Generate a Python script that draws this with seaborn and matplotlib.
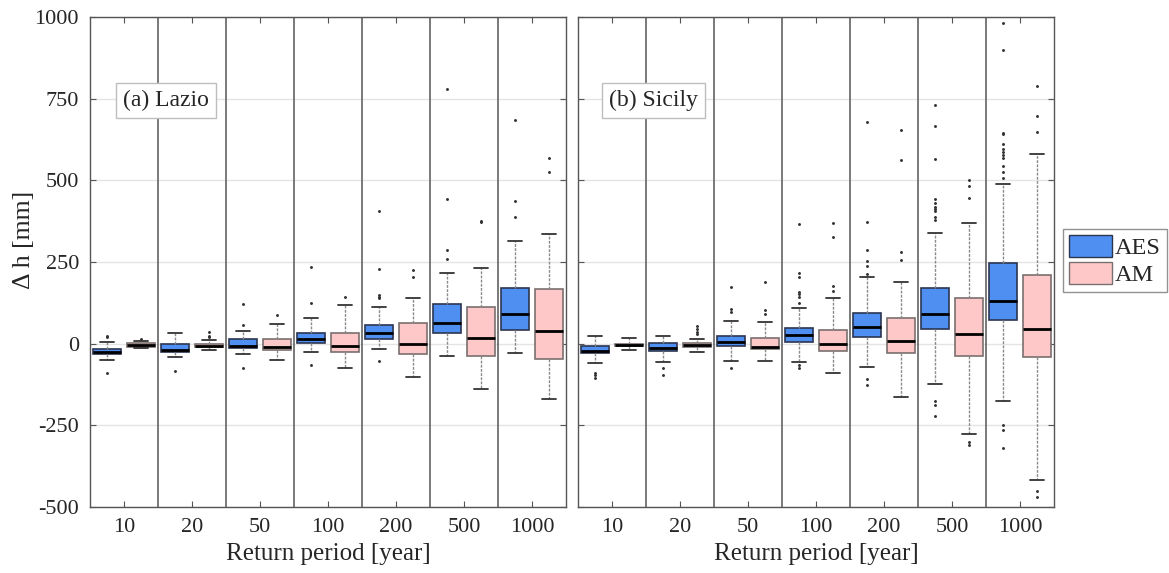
import matplotlib
matplotlib.use("Agg")
import matplotlib.pyplot as plt
from matplotlib.patches import Patch
import seaborn as sns

# ---------------- data ----------------
periods = ["10", "20", "50", "100", "200", "500", "1000"]
series = ["AES", "AM"]
regions = ["(a) Lazio", "(b) Sicily"]

# Lazio - AES
lazio_aes_q1 = [-31, -26, -12, 1, 15, 32, 42]
lazio_aes_med = [-25, -19, -6, 14, 34, 63, 90]
lazio_aes_q3 = [-17, -1, 13, 33, 57, 121, 171]
lazio_aes_lo = [-50, -42, -31, -24, -17, -39, -28]
lazio_aes_hi = [4, 32, 39, 79, 113, 217, 315]
lazio_aes_fl = [[23, 20, -89], [-83], [56, 121, -73], [126, 234, -64],
                [406, 230, 149, 144, 139, -54], [779, 443, 287, 259], [685, 438, 389]]
# Lazio - AM
lazio_am_q1 = [-9, -11, -19, -24, -32, -38, -46]
lazio_am_med = [-4, -7, -10, -6, 0, 17, 38]
lazio_am_q3 = [1, -1, 13, 34, 62, 113, 166]
lazio_am_lo = [-12, -20, -51, -76, -103, -140, -168]
lazio_am_hi = [9, 10, 61, 119, 139, 232, 335]
lazio_am_fl = [[13], [36, 24, 19], [88], [144], [224, 204], [375, 371], [567, 526]]

# Sicily - AES
sicily_aes_q1 = [-29, -22, -8, 6, 20, 45, 73]
sicily_aes_med = [-23, -14, 4, 28, 50, 91, 130]
sicily_aes_q3 = [-7, 1, 24, 49, 93, 170, 246]
sicily_aes_lo = [-58, -55, -52, -56, -70, -124, -177]
sicily_aes_hi = [24, 25, 70, 108, 203, 338, 488]
sicily_aes_fl = [[-89, -97, -105], [-73, -96], [172, 106, 96, -75],
                 [366, 217, 204, 159, 152, 143, 124, -64, -74],
                 [678, 372, 288, 253, 239, 213, -109, -128],
                 [732, 665, 565, 443, 431, 419, 411, 405, 389, 380, -176, -189, -222],
                 [983, 900, 646, 643, 610, 596, 586, 578, 568, 544, 526, 508, -250, -263, -319]]
# Sicily - AM
sicily_am_q1 = [-7, -9, -17, -22, -29, -37, -42]
sicily_am_med = [-3, -4, -9, -2, 8, 31, 46]
sicily_am_q3 = [0, 1, 18, 42, 80, 141, 211]
sicily_am_lo = [-19, -24, -54, -91, -163, -276, -418]
sicily_am_hi = [17, 13, 67, 139, 190, 370, 580]
sicily_am_fl = [[], [55, 45, 37, 30], [190, 102, 90], [370, 327, 177, 162],
                [655, 562, 282, 255], [500, 484, 445, -302, -310], [789, 697, 648, -452, -468]]

y_ticks = [-500, -250, 0, 250, 500, 750, 1000]

# ---------------- style ----------------
sns.set_theme(style="white")
plt.rcParams["font.family"] = ["Liberation Serif", "DejaVu Serif"]
plt.rcParams["mathtext.fontset"] = "stix"

colors = {"AES": "#4f8ff2", "AM": "#ffc8c8"}
edges = {"AES": "#2b3550", "AM": "#7a7070"}


def make_stats(q1, med, q3, lo, hi, fl):
    return [dict(q1=a, med=b, q3=c, whislo=d, whishi=e, fliers=f)
            for a, b, c, d, e, f in zip(q1, med, q3, lo, hi, fl)]


data = {
    "(a) Lazio": {
        "AES": make_stats(lazio_aes_q1, lazio_aes_med, lazio_aes_q3, lazio_aes_lo, lazio_aes_hi, lazio_aes_fl),
        "AM": make_stats(lazio_am_q1, lazio_am_med, lazio_am_q3, lazio_am_lo, lazio_am_hi, lazio_am_fl),
    },
    "(b) Sicily": {
        "AES": make_stats(sicily_aes_q1, sicily_aes_med, sicily_aes_q3, sicily_aes_lo, sicily_aes_hi, sicily_aes_fl),
        "AM": make_stats(sicily_am_q1, sicily_am_med, sicily_am_q3, sicily_am_lo, sicily_am_hi, sicily_am_fl),
    },
}

W, H = 1169, 573
fig = plt.figure(figsize=(W / 100, H / 100), dpi=100)
ax_pos = [(90, 17, 476, 490), (578, 17, 476, 490)]
offsets = {"AES": -0.25, "AM": 0.25}
text_x = [0.069, 0.065]

n = len(periods)
for k, region in enumerate(regions):
    x0, y0, w, h = ax_pos[k]
    ax = fig.add_axes([x0 / W, 1 - (y0 + h) / H, w / W, h / H])
    ax.set_xlim(-0.5, n - 0.5)
    ax.set_ylim(-500, 1000)
    for yv in y_ticks:
        ax.axhline(yv, color="#e4e4e4", lw=1.0, zorder=0)
    for i in range(1, n):
        ax.axvline(i - 0.5, color="#555555", lw=1.1, zorder=1)
    for s in series:
        pos = [i + offsets[s] for i in range(n)]
        ax.bxp(data[region][s], positions=pos, widths=0.41, patch_artist=True,
               showfliers=True, manage_ticks=False, capwidths=0.2,
               boxprops=dict(facecolor=colors[s], edgecolor=edges[s], lw=1.2),
               medianprops=dict(color="black", lw=2.0),
               whiskerprops=dict(color="#8a8a8a", lw=1.0, ls=(0, (2, 1))),
               capprops=dict(color="#333333", lw=1.3),
               flierprops=dict(marker=".", markersize=2.2, markerfacecolor="#333333",
                               markeredgecolor="#333333", ls="none"))
    ax.set_xticks(range(n))
    ax.set_xticklabels(periods, fontsize=16)
    ax.set_yticks(y_ticks)
    ax.tick_params(axis="both", direction="in", length=4, width=0.8, color="#555555",
                   top=True, right=True, bottom=True, left=True, pad=8)
    if k == 0:
        ax.set_yticklabels([str(v) for v in y_ticks], fontsize=16)
        ax.set_ylabel("Δ h [mm]", fontsize=18.5)
        ax.yaxis.set_label_coords(-0.116, 0.545)
    else:
        ax.set_yticklabels([])
    ax.set_xlabel("Return period [year]", fontsize=18, labelpad=4)
    for sp in ax.spines.values():
        sp.set_color("#555555")
        sp.set_linewidth(1.0)
    ax.text(text_x[k], 0.829, region, transform=ax.transAxes, fontsize=17,
            ha="left", va="center", zorder=5,
            bbox=dict(boxstyle="square,pad=0.3", facecolor="white", edgecolor="#bdbdbd", lw=1.0))

handles = [Patch(facecolor=colors[s], edgecolor=edges[s], lw=1.0, label=s) for s in series]
leg = fig.legend(handles=handles, loc="upper left", bbox_to_anchor=(1063 / W, 1 - 229 / H),
                 fontsize=17.5, frameon=True, fancybox=False, handlelength=1.75, handleheight=1.0,
                 handletextpad=0.15, borderpad=0.25, labelspacing=0.12, borderaxespad=0)
leg.get_frame().set_edgecolor("#777777")
leg.get_frame().set_linewidth(1.0)

fig.savefig("out.png", dpi=100)
